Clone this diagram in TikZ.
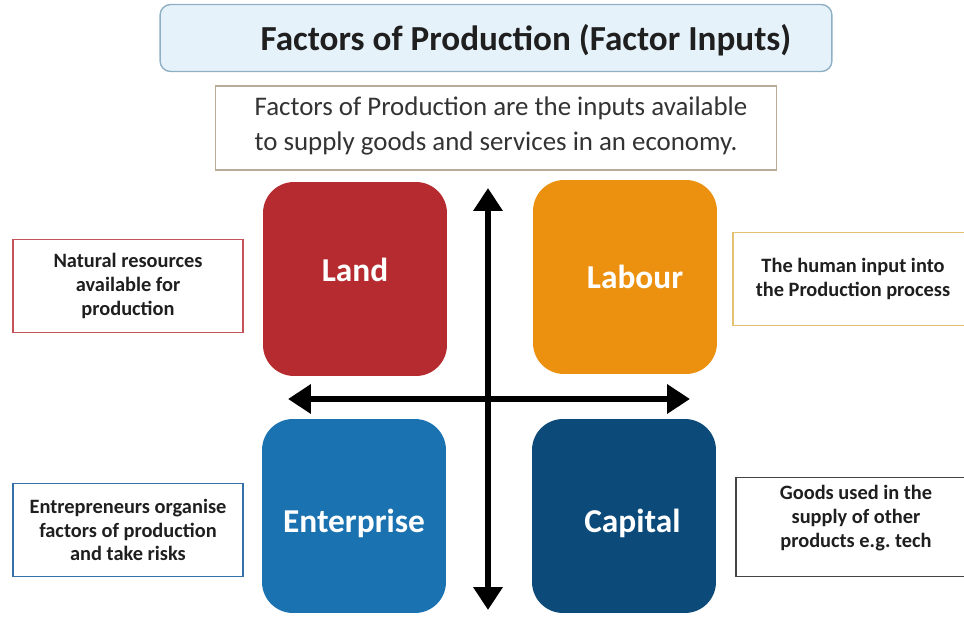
\documentclass[tikz,border=0pt]{standalone}
\usepackage{fontspec}
\setmainfont{Carlito}
\usetikzlibrary{arrows.meta}
\definecolor{landred}{HTML}{B52B30}
\definecolor{labourorange}{HTML}{EB910F}
\definecolor{enterblue}{HTML}{1A72B0}
\definecolor{capitalblue}{HTML}{0C4A7A}
\definecolor{titlefill}{HTML}{E6F2FA}
\definecolor{titleline}{HTML}{8FAFC3}
\definecolor{introline}{HTML}{B8AC98}
\definecolor{landline}{HTML}{C4535A}
\definecolor{labourline}{HTML}{E2C271}
\definecolor{enterline}{HTML}{3371A8}
\definecolor{capitalline}{HTML}{444444}

\begin{document}
\begin{tikzpicture}[x=0.02cm,y=-0.02cm]

    \useasboundingbox (0,0) rectangle (964,622);

    % Title and introduction
    \node[draw=titleline,fill=titlefill,thick,rounded corners=6pt,minimum width=13.44cm,minimum height=1.34cm] (title) at (496,38) {};
    \node[font=\bfseries\fontsize{20}{24}\selectfont,text=black!88] (titletext) at (526,40) {Factors of Production (Factor Inputs)};
    \node[draw=introline,thick,minimum width=11.22cm,minimum height=1.68cm] (intro) at (496,128) {};
    \node[align=left,font=\fontsize{15.3}{20}\selectfont,text=black!80] (introtext) at (501,126)
        {Factors of Production are the inputs available\\to supply goods and services in an economy.};

    % Factor squares
    \begin{scope}[every node/.style={rounded corners=0.62cm,minimum width=3.68cm,minimum height=3.88cm,text=white,font=\bfseries\fontsize{19}{22}\selectfont}]
        \node[fill=landred,text depth=10pt] (land) at (355,279) {Land};
        \node[fill=labourorange] (labour) at (625,277) {\hspace*{0.6em}Labour};
        \node[fill=enterblue,text height=22pt] (enterprise) at (354,516) {Enterprise};
        \node[fill=capitalblue,text height=22pt] (capital) at (624,516) {\hspace*{0.5em}Capital};
    \end{scope}

    % Description boxes
    \begin{scope}[every node/.style={thick,fill=white,minimum width=4.6cm,minimum height=1.86cm,align=center,text=black!88,font=\bfseries\fontsize{11.6}{13.6}\selectfont}]
        \node[draw=landline] (landinfo) at (128,286) {Natural resources\\available for\\production};
        \node[draw=labourline,minimum width=4.8cm] (labourinfo) at (853,279) {The human input into\\the Production process};
        \node[draw=enterline] (enterinfo) at (128,530) {Entrepreneurs organise\\factors of production\\and take risks};
        \node[draw=capitalline,minimum width=4.8cm,minimum height=1.98cm,text depth=12pt] (capitalinfo) at (856,527) {Goods used in the\\supply of other\\products e.g.\ tech};
    \end{scope}

    % Axes
    \coordinate (top) at (488,188);
    \coordinate (bottom) at (488,610);
    \coordinate (left) at (288,399);
    \coordinate (right) at (690,399);
    \begin{scope}[line width=3.4pt,{Triangle[length=13pt,width=16pt]}-{Triangle[length=13pt,width=16pt]}]
        \draw (top) -- (bottom);
        \draw (left) -- (right);
    \end{scope}

\end{tikzpicture}
\end{document}
